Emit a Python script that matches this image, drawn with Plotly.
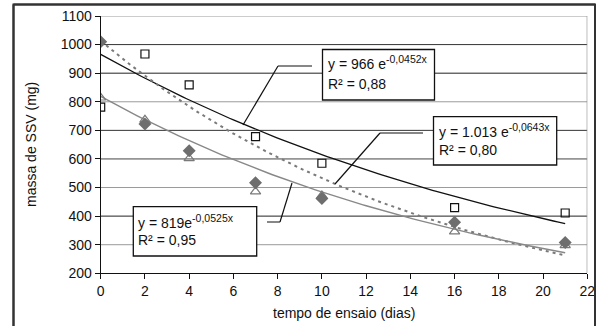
import numpy as np
import plotly.graph_objects as go

# ---------------- data ----------------
days = [0, 2, 4, 7, 10, 16, 21]
ssv_square = [781, 967, 859, 678, 585, 430, 411]
ssv_diamond = [1010, 722, 629, 517, 462, 379, 308]
ssv_triangle = [814, 737, 602, 486, 472, 346, 298]

# exponential trendlines y = a * exp(b x)
trend_a = [966, 1013, 819]
trend_b = [-0.0452, -0.0643, -0.0525]
SUP = '<sup><span style="font-size:10.5px">{}</span></sup>'
trend_label_1 = ["y = 966 e" + SUP.format("-0,0452x"),
                 "y = 1.013 e" + SUP.format("-0,0643x"),
                 "y = 819e" + SUP.format("-0,0525x")]
trend_label_2 = ["R² = 0,88", "R² = 0,80", "R² = 0,95"]

x_ticks = list(range(0, 23, 2))
y_ticks = list(range(200, 1101, 100))

FONT = "Liberation Sans, Arial, sans-serif"
FS = 14
W, H = 601, 326

# pixel helpers (plot area: x 101..587, y 16..273)
X0, X1, Y0, Y1 = 100.7, 587.3, 16.0, 273.3
def px2x(px):
    return (px - X0) / (X1 - X0) * 22
def py2y(py):
    return 1100 - (py - Y0) / (Y1 - Y0) * 900
def pxp(px):
    return px / W
def pyp(py):
    return 1 - py / H

fig = go.Figure()

grid_cols = {1100: "#9a9a9a", 1000: "#333333", 900: "#222222", 800: "#9a9a9a",
             700: "#333333", 600: "#444444", 500: "#9a9a9a", 400: "#222222", 300: "#9a9a9a"}
shapes = []
# outer chart frame as paper shapes
for (xa, ya, xb, yb) in [(13.5, 4.5, 13.5, 326), (13.5, 4.5, 595, 4.5), (595, 4.5, 595, 326)]:
    shapes.append(dict(type="line", xref="paper", yref="paper",
                       x0=pxp(xa), y0=pyp(ya), x1=pxp(xb), y1=pyp(yb),
                       line=dict(color="#333333", width=2), layer="above"))
# gridlines
for yv, c in grid_cols.items():
    shapes.append(dict(type="line", xref="x", yref="y", x0=0, x1=22, y0=yv, y1=yv,
                       line=dict(color=c, width=1), layer="below"))
shapes.append(dict(type="line", xref="x", yref="y", x0=22, x1=22, y0=200, y1=1100,
                   line=dict(color="#8a8a8a", width=1.2), layer="below"))

# outer chart frame, also on a full-figure overlay axis (pixel units)
frame_px_x = [13.5, 13.5, 595, 595]
frame_px_y = [330, 4.5, 4.5, 330]
fig.add_trace(go.Scatter(x=frame_px_x, y=frame_px_y, xaxis="x2", yaxis="y2",
                         mode="lines", line=dict(color="#333333", width=2),
                         hoverinfo="skip", showlegend=False, cliponaxis=False))

# trendlines
tx = np.linspace(0, 21, 120)
trend_styles = [dict(color="#111111", width=1.3),
                dict(color="#7a7a7a", width=2, dash="3px,4px"),
                dict(color="#888888", width=1.4)]
for a, b, st in zip(trend_a, trend_b, trend_styles):
    fig.add_trace(go.Scatter(x=tx, y=a * np.exp(b * tx), mode="lines", line=st,
                             hoverinfo="skip", showlegend=False))

# markers
fig.add_trace(go.Scatter(x=days, y=ssv_triangle, mode="markers",
                         marker=dict(symbol="triangle-up-open", size=9, color="#7a7a7a",
                                     line=dict(width=1.2, color="#7a7a7a")), showlegend=False))
fig.add_trace(go.Scatter(x=days, y=ssv_diamond, mode="markers",
                         marker=dict(symbol="diamond", size=10, color="#6e6e6e"), showlegend=False))
fig.add_trace(go.Scatter(x=days, y=ssv_square, mode="markers",
                         marker=dict(symbol="square-open", size=8, color="#111111",
                                     line=dict(width=1.2, color="#111111")), showlegend=False))

# leader lines for the labels
leaders = [
    [(312, 66), (278, 66), (243, 125)],
    [(423, 133), (380, 133), (335, 184)],
    [(267, 222), (280, 222), (292, 183)],
]
for pts in leaders:
    for (xa, ya), (xb, yb) in zip(pts[:-1], pts[1:]):
        shapes.append(dict(type="line", xref="x", yref="y",
                           x0=px2x(xa), y0=py2y(ya), x1=px2x(xb), y1=py2y(yb),
                           line=dict(color="#111111", width=1.2), layer="above"))

# label boxes
boxes = [(322.5, 49.5, 434.5, 100), (433.5, 116.7, 556.7, 165), (133.3, 206.7, 256.7, 256)]
line1_y = [62, 130, 221]
line2_y = [84, 150, 240]
annotations = []
for i, (bx0, by0, bx1, by1) in enumerate(boxes):
    shapes.append(dict(type="rect", xref="x", yref="y",
                       x0=px2x(bx0), y0=py2y(by0), x1=px2x(bx1), y1=py2y(by1),
                       fillcolor="white", line=dict(color="#111111", width=1.3), layer="above"))
    annotations.append(dict(x=px2x(bx0 + 3), y=py2y(line1_y[i]), xref="x", yref="y",
                            text=trend_label_1[i], showarrow=False, xanchor="left",
                            yanchor="middle", font=dict(family=FONT, size=FS, color="#111111")))
    annotations.append(dict(x=px2x(bx0 + 3), y=py2y(line2_y[i]), xref="x", yref="y",
                            text=trend_label_2[i], showarrow=False, xanchor="left",
                            yanchor="middle", font=dict(family=FONT, size=FS, color="#111111")))

# axis titles
annotations.append(dict(x=pxp(344), y=pyp(313), xref="paper", yref="paper",
                        xanchor="center", yanchor="middle",
                        text="tempo de ensaio (dias)", showarrow=False,
                        font=dict(family=FONT, size=FS, color="#111111")))
annotations.append(dict(x=pxp(31), y=pyp(145), xref="paper", yref="paper",
                        xanchor="center", yanchor="middle",
                        text="massa de SSV (mg)", showarrow=False, textangle=-90,
                        font=dict(family=FONT, size=FS, color="#111111")))

fig.update_layout(
    width=W, height=H,
    margin=dict(l=0, r=0, t=0, b=0),
    paper_bgcolor="white", plot_bgcolor="rgba(0,0,0,0)",
    shapes=shapes, annotations=annotations,
    font=dict(family=FONT, size=FS, color="#111111"),
    xaxis=dict(domain=[X0 / W, X1 / W], range=[0, 22], tickvals=x_ticks,
               ticks="outside", ticklen=5, automargin=False,
               tickcolor="#111111", showline=True, linecolor="#111111", linewidth=1,
               showgrid=False, zeroline=False, tickfont=dict(size=FS)),
    yaxis=dict(domain=[1 - Y1 / H, 1 - Y0 / H], range=[200, 1100], tickvals=y_ticks,
               ticks="outside", ticklen=5, automargin=False,
               tickcolor="#111111", showline=True, linecolor="#111111", linewidth=1,
               showgrid=False, zeroline=False, tickfont=dict(size=FS)),
    xaxis2=dict(domain=[0, 1], range=[0, W], anchor="y2", visible=False, fixedrange=True),
    yaxis2=dict(domain=[0, 1], range=[H, 0], anchor="x2", visible=False, fixedrange=True),
)

fig.write_html("out.html", config={"displayModeBar": False},
               post_script="document.body.style.margin='0';document.body.style.overflow='hidden';")
